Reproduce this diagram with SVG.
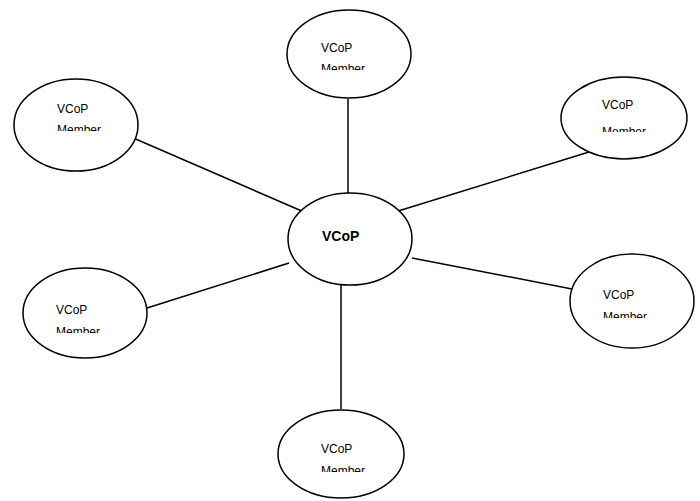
<svg xmlns="http://www.w3.org/2000/svg" width="700" height="501" viewBox="0 0 700 501">
<style>
.n{fill:#fff;stroke:#000;stroke-width:1.5}
.c line{stroke:#000;stroke-width:1.5}
.t{font-family:"Liberation Sans",Arial,sans-serif;font-size:12px;fill:#000}
.b{font-family:"Liberation Sans",Arial,sans-serif;font-size:14px;font-weight:bold;fill:#000}
</style>
<defs>
<clipPath id="c1"><rect x="0" y="0" width="700" height="70"/></clipPath>
<clipPath id="c2"><rect x="0" y="0" width="700" height="131"/></clipPath>
<clipPath id="c3"><rect x="0" y="0" width="700" height="132"/></clipPath>
<clipPath id="c4"><rect x="0" y="0" width="700" height="333"/></clipPath>
<clipPath id="c5"><rect x="0" y="0" width="700" height="318"/></clipPath>
<clipPath id="c6"><rect x="0" y="0" width="700" height="472"/></clipPath>
</defs>
<rect width="700" height="501" fill="#fff"/>
<g id="connectors" class="c">
<line x1="348" y1="99" x2="348" y2="193"/>
<line x1="131" y1="137" x2="304" y2="212"/>
<line x1="395" y1="212" x2="589" y2="152"/>
<line x1="147" y1="308" x2="289" y2="263"/>
<line x1="412" y1="258" x2="572" y2="289"/>
<line x1="341" y1="284" x2="341" y2="409"/>
</g>
<g id="center">
<ellipse class="n" cx="350" cy="239" rx="62" ry="46"/>
<text class="b" x="322" y="241">VCoP</text>
</g>
<g id="top">
<ellipse class="n" cx="349" cy="54" rx="62" ry="44"/>
<text class="t" x="321" y="52">VCoP</text>
<text class="t" x="321" y="73" clip-path="url(#c1)">Member</text>
</g>
<g id="topleft">
<ellipse class="n" cx="76" cy="125" rx="62" ry="46"/>
<text class="t" x="57" y="113">VCoP</text>
<text class="t" x="57" y="134" clip-path="url(#c2)">Member</text>
</g>
<g id="topright">
<ellipse class="n" cx="624" cy="118" rx="63" ry="41"/>
<text class="t" x="602" y="109">VCoP</text>
<text class="t" x="602" y="136" clip-path="url(#c3)">Member</text>
</g>
<g id="bottomleft">
<ellipse class="n" cx="85" cy="313" rx="62" ry="45"/>
<text class="t" x="56" y="314">VCoP</text>
<text class="t" x="56" y="336" clip-path="url(#c4)">Member</text>
</g>
<g id="bottomright">
<ellipse class="n" cx="632" cy="301" rx="62" ry="47"/>
<text class="t" x="603" y="299">VCoP</text>
<text class="t" x="603" y="321" clip-path="url(#c5)">Member</text>
</g>
<g id="bottom">
<ellipse class="n" cx="341" cy="454" rx="63" ry="44"/>
<text class="t" x="321" y="453">VCoP</text>
<text class="t" x="321" y="475" clip-path="url(#c6)">Member</text>
</g>
</svg>
